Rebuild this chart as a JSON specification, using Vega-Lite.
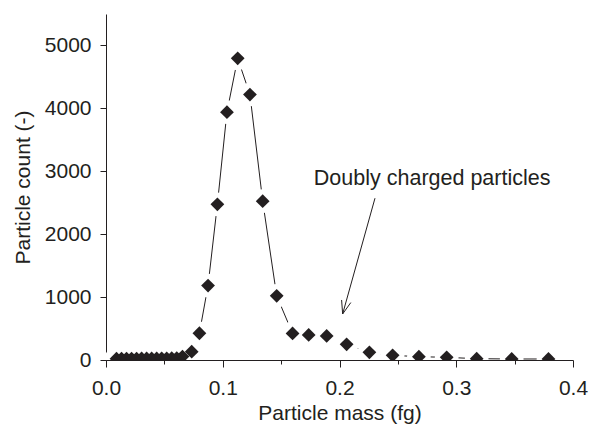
{
  "$schema": "https://vega.github.io/schema/vega-lite/v6.json",
  "width": 467,
  "height": 346,
  "autosize": "none",
  "padding": {"left": 106, "top": 14, "right": 17, "bottom": 65},
  "background": "white",
  "config": {
    "view": {"stroke": null},
    "font": "Liberation Sans",
    "axis": {
      "domainColor": "#231f20",
      "tickColor": "#231f20",
      "labelColor": "#231f20",
      "titleColor": "#231f20",
      "labelFont": "Liberation Sans",
      "titleFont": "Liberation Sans",
      "labelFontSize": 21,
      "titleFontSize": 21,
      "titleFontWeight": "normal",
      "grid": false,
      "zindex": 1
    }
  },
  "datasets": {
    "series": [
      {"mass": 0.009, "count": 20},
      {"mass": 0.0133, "count": 22},
      {"mass": 0.0176, "count": 22},
      {"mass": 0.0219, "count": 23},
      {"mass": 0.0262, "count": 23},
      {"mass": 0.0305, "count": 24},
      {"mass": 0.0348, "count": 24},
      {"mass": 0.0391, "count": 25},
      {"mass": 0.0434, "count": 25},
      {"mass": 0.0477, "count": 26},
      {"mass": 0.052, "count": 27},
      {"mass": 0.0563, "count": 28},
      {"mass": 0.0606, "count": 30},
      {"mass": 0.0655, "count": 55},
      {"mass": 0.0734, "count": 132},
      {"mass": 0.08, "count": 425},
      {"mass": 0.0874, "count": 1183},
      {"mass": 0.0954, "count": 2475},
      {"mass": 0.1036, "count": 3940},
      {"mass": 0.1128, "count": 4795},
      {"mass": 0.1233, "count": 4220},
      {"mass": 0.1342, "count": 2525},
      {"mass": 0.1462, "count": 1020},
      {"mass": 0.1598, "count": 422},
      {"mass": 0.1736, "count": 398},
      {"mass": 0.189, "count": 382},
      {"mass": 0.2061, "count": 249},
      {"mass": 0.2256, "count": 122},
      {"mass": 0.2455, "count": 74},
      {"mass": 0.268, "count": 53},
      {"mass": 0.2918, "count": 42},
      {"mass": 0.3175, "count": 21},
      {"mass": 0.3475, "count": 16},
      {"mass": 0.379, "count": 16}
    ],
    "note": [
      {"mass": 0.178, "count": 2785, "label": "Doubly charged particles"}
    ],
    "arrow": [
      {"x1": 0.2304, "y1": 2572, "x2": 0.2027, "y2": 732},
      {"x1": 0.2097, "y1": 913, "x2": 0.2027, "y2": 732},
      {"x1": 0.2018, "y1": 954, "x2": 0.2027, "y2": 732}
    ]
  },
  "layer": [
    {
      "data": {"name": "series"},
      "mark": {"type": "line", "color": "#231f20", "strokeWidth": 1, "clip": true},
      "encoding": {
        "x": {
          "field": "mass", "type": "quantitative",
          "scale": {"domain": [0, 0.4], "nice": false, "zero": false},
          "axis": {
            "title": "Particle mass (fg)",
            "values": [0, 0.05, 0.1, 0.15, 0.2, 0.25, 0.3, 0.35, 0.4],
            "format": ".1f",
            "labelExpr": "abs(datum.value*10 - round(datum.value*10)) < 1e-6 ? datum.label : ''",
            "tickSize": {"condition": {"test": "abs(datum.value*10 - round(datum.value*10)) < 1e-6", "value": 7}, "value": 4},
            "labelPadding": 10,
            "titlePadding": 4,
            "labelFlush": false,
            "labelOverlap": false
          }
        },
        "y": {
          "field": "count", "type": "quantitative",
          "scale": {"domain": [0, 5500], "nice": false},
          "axis": {
            "title": "Particle count (-)",
            "values": [0, 500, 1000, 1500, 2000, 2500, 3000, 3500, 4000, 4500, 5000],
            "format": "d",
            "labelExpr": "datum.value % 1000 === 0 ? datum.label : ''",
            "tickSize": {"condition": {"test": "datum.value % 1000 === 0", "value": 6}, "value": 4},
            "labelPadding": 9,
            "titlePadding": 11,
            "labelFlush": false,
            "labelOverlap": false
          }
        }
      }
    },
    {
      "data": {"name": "series"},
      "mark": {"type": "point", "shape": "circle", "filled": true, "fill": "white", "stroke": null, "opacity": 1, "size": 560, "clip": true},
      "encoding": {
        "x": {"field": "mass", "type": "quantitative"},
        "y": {"field": "count", "type": "quantitative"}
      }
    },
    {
      "data": {"name": "series"},
      "mark": {"type": "point", "shape": "diamond", "filled": true, "color": "#231f20", "opacity": 1, "size": 190, "clip": true},
      "encoding": {
        "x": {"field": "mass", "type": "quantitative"},
        "y": {"field": "count", "type": "quantitative"}
      }
    },
    {
      "data": {"name": "note"},
      "mark": {"type": "text", "align": "left", "baseline": "alphabetic", "fontSize": 21.5, "font": "Liberation Sans", "color": "#231f20"},
      "encoding": {
        "x": {"field": "mass", "type": "quantitative"},
        "y": {"field": "count", "type": "quantitative"},
        "text": {"field": "label"}
      }
    },
    {
      "data": {"name": "arrow"},
      "mark": {"type": "rule", "color": "#231f20", "strokeWidth": 1},
      "encoding": {
        "x": {"field": "x1", "type": "quantitative"},
        "y": {"field": "y1", "type": "quantitative"},
        "x2": {"field": "x2"},
        "y2": {"field": "y2"}
      }
    }
  ]
}
